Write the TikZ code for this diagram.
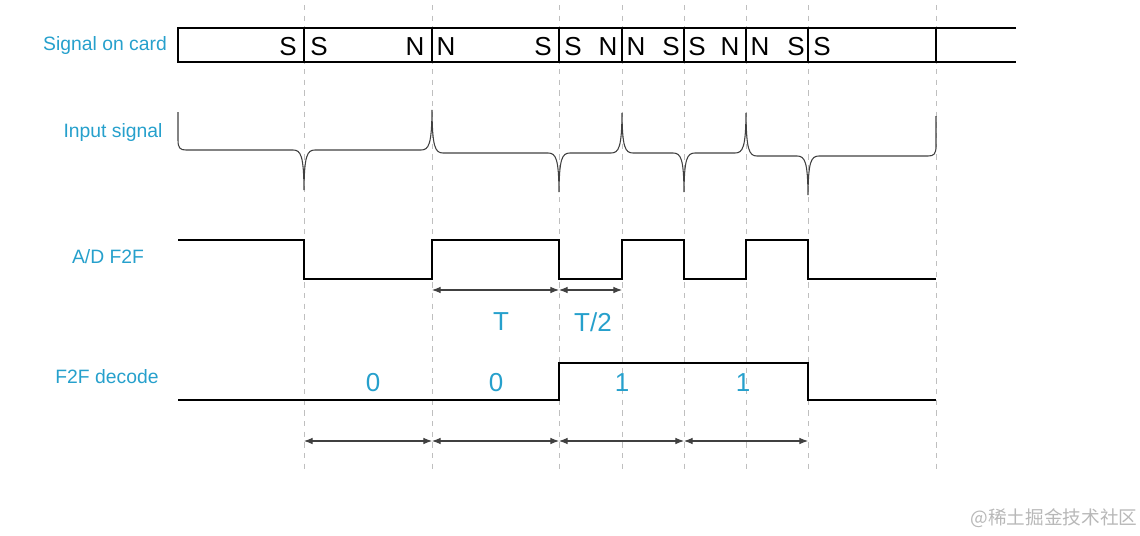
\documentclass[tikz,border=0pt]{standalone}
\usepackage{fontspec}
\setmainfont{Liberation Sans}
\newfontfamily\cjk{Noto Sans CJK SC}
\usetikzlibrary{arrows.meta, positioning}
\definecolor{labelblue}{RGB}{38,160,204}

\begin{document}
\begin{tikzpicture}[
    x=0.75pt, y=-0.75pt,
    sig/.style={text=labelblue, font=\fontsize{14.5}{16}\selectfont},
    pole/.style={font=\fontsize{19.5}{21}\selectfont, inner sep=0pt},
    val/.style={text=labelblue, font=\fontsize{19.5}{21}\selectfont, inner sep=0pt},
    wave/.style={line width=1.3pt},
    spike/.style={line width=0.8pt, black!75},
    guide/.style={line width=0.4pt, black!25, dash pattern=on 4pt off 4pt},
    dim/.style={line width=0.8pt, black!75, {Latex[length=6.5pt,width=5pt]}-{Latex[length=6.5pt,width=5pt]}}
]
\useasboundingbox (0,0) rectangle (1140,536);

% timing guides
\foreach \x in {304,432,559,622,684,746,808,936}
    \draw [guide] (\x,5) -- (\x,470);

% row labels
\node (card) [sig] at (105,45) {Signal on card};
\node (input) [sig] at (113,132) {Input signal};
\node (adf2f) [sig] at (108,257) {A/D F2F};
\node (decode) [sig] at (107,377) {F2F decode};

% magnetic strip
\draw [wave] (1016,28) -- (178,28) -- (178,62) -- (1016,62);
\foreach \x in {304,432,559,622,684,746,808,936}
    \draw [wave] (\x,28) -- (\x,62);
\foreach \x/\p in {288/S,319/S,415/N,446/N,543/S,573/S,608/N,636/N,671/S,697/S,730/N,760/N,796/S,822/S}
    \node (pole\x) [pole] at (\x,47) {\p};

% head signal
\draw [spike] (178,112) -- (178,140) .. controls (178,148) and (180,150) .. (186,150)
    \foreach \x/\t/\a/\b in {304/190/150/150, 432/110/150/153, 559/192/153/153, 622/113/153/153, 684/192/153/153, 746/113/153/156, 808/195/156/156} {
        -- (\x-11,\a) .. controls (\x-3,\a) and (\x-0.3,{\a+0.15*(\t-\a)}) .. (\x,\t)
        .. controls (\x+0.3,{\b+0.15*(\t-\b)}) and (\x+3,\b) .. (\x+11,\b)
    }
    -- (928,156) .. controls (934,156) and (936,154) .. (936,146) -- (936,116);

% A/D output
\draw [wave] (178,240) -- (304,240) -- (304,279) -- (432,279) -- (432,240) -- (559,240)
    -- (559,279) -- (622,279) -- (622,240) -- (684,240) -- (684,279) -- (746,279)
    -- (746,240) -- (808,240) -- (808,279) -- (936,279);

% period marks
\foreach \x in {432,559,622}
    \coordinate (h\x) at (\x,290);
\draw [dim] (h432) -- (h559);
\draw [dim] (h559) -- (h622);
\node (period) [val] at (501,322) {T};
\node (half) [val] at (593,322) {T/2};

% decoded bits
\draw [wave] (178,400) -- (559,400) -- (559,363) -- (808,363) -- (808,400) -- (936,400);
\node (bit1) [val] at (373,383) {0};
\node (bit2) [val] at (496,383) {0};
\node (bit3) [val] at (622,383) {1};
\node (bit4) [val] at (743,383) {1};

\foreach \x in {304,432,559,684,808}
    \coordinate (d\x) at (\x,441);
\draw [dim] (d304) -- (d432);
\draw [dim] (d432) -- (d559);
\draw [dim] (d559) -- (d684);
\draw [dim] (d684) -- (d808);

\node (mark) [text=black!28, font=\cjk\fontsize{14}{16}\selectfont] at (1054,518) {@稀土掘金技术社区};
\end{tikzpicture}
\end{document}
